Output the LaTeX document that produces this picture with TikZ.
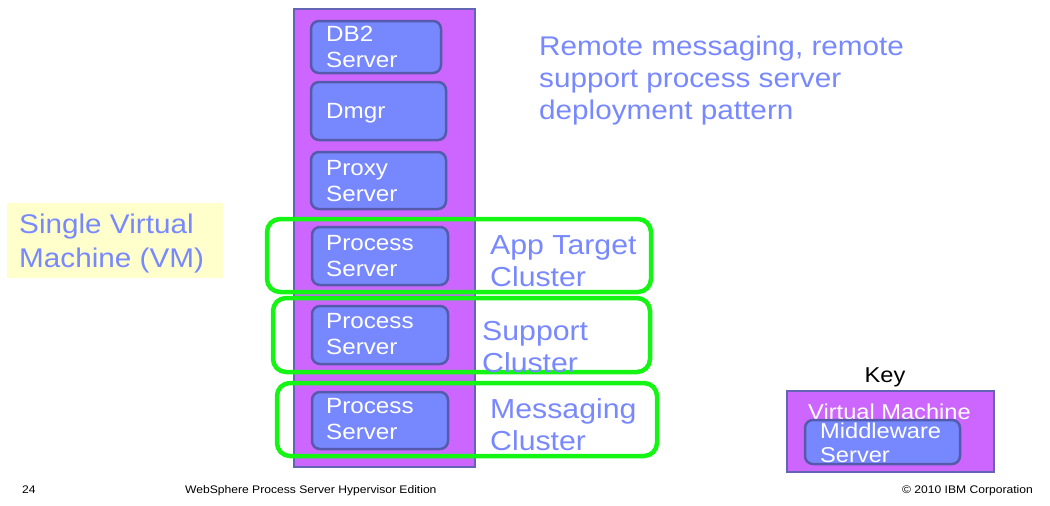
\documentclass[tikz,border=0pt]{standalone}
\usepackage{fontspec}
\setmainfont[FakeStretch=1.1]{Liberation Sans}
\definecolor{vmfill}{RGB}{204,102,255}
\definecolor{vmline}{RGB}{100,100,180}
\definecolor{srvfill}{RGB}{119,136,255}
\definecolor{srvline}{RGB}{85,90,170}
\definecolor{txtblue}{RGB}{120,136,255}
\definecolor{grn}{RGB}{20,245,20}
\definecolor{yel}{RGB}{255,255,204}
\begin{document}
\begin{tikzpicture}[x=1pt,y=-1pt,
  vmbox/.style={draw=vmline,fill=vmfill,line width=2pt},
  srvbox/.style={draw=srvline,fill=srvfill,line width=2.5pt,rounded corners=8pt},
  srvtxt/.style={anchor=north west,inner sep=0pt,align=left,text=white,font=\fontsize{22}{26}\selectfont},
  clbox/.style={draw=grn,line width=4.5pt,rounded corners=13pt},
  cltxt/.style={anchor=north west,inner sep=0pt,align=left,text=txtblue,font=\fontsize{27.5}{31.5}\selectfont},
  foot/.style={anchor=base west,inner sep=0pt,font=\fontsize{11}{12}\selectfont}]
\useasboundingbox (0,0) rectangle (1050,506);
% main VM
\draw[vmbox] (294,9) rectangle (475,467);
% servers
\draw[srvbox] (311,21) rectangle (441,73);
\node[srvtxt] (db2) at (326,26.2) {DB2\\Server};
\draw[srvbox] (311,82) rectangle (446,140);
\node[srvtxt] (dmgr) at (326,103.2) {Dmgr};
\draw[srvbox] (311,152) rectangle (446,209);
\node[srvtxt] (proxy) at (326,160.2) {Proxy\\Server};
\draw[srvbox] (312,227) rectangle (448,285);
\node[srvtxt] (ps1) at (326,235) {Process\\Server};
\draw[srvbox] (312,306) rectangle (448,364);
\node[srvtxt] (ps2) at (326,313.5) {Process\\Server};
\draw[srvbox] (312,392) rectangle (448,449);
\node[srvtxt] (ps3) at (326,398.5) {Process\\Server};
% clusters
\draw[clbox] (267,219) rectangle (651,292);
\node[cltxt] (appt) at (490,235.5) {App Target\\Cluster};
\draw[clbox] (273,298) rectangle (650,372);
\node[cltxt] (supp) at (482,321.5) {Support\\Cluster};
\draw[clbox] (277,383) rectangle (657,456);
\node[cltxt] (msg) at (490,398.5) {Messaging\\Cluster};
% title
\node[anchor=north west,inner sep=0pt,align=left,text=txtblue,font=\fontsize{27}{32}\selectfont] (title) at (539,35.5)
  {Remote messaging, remote\\support process server\\deployment pattern};
% single VM
\fill[yel] (7,203) rectangle (223,278);
\node[anchor=north west,inner sep=0pt,align=left,text=txtblue,font=\fontsize{27}{34}\selectfont] (single) at (19,213.3)
  {Single Virtual\\Machine (VM)};
% key
\node[anchor=base,inner sep=0pt,font=\fontsize{21.5}{24}\selectfont] (key) at (885,382) {Key};
\draw[vmbox] (787,391) rectangle (994,472);
\node[anchor=base west,inner sep=0pt,text=white,font=\fontsize{21.5}{24}\selectfont] (kvm) at (808,419) {Virtual Machine};
\draw[srvbox] (805,420) rectangle (960,464);
\node[anchor=north west,inner sep=0pt,align=left,text=white,font=\fontsize{21.5}{24}\selectfont] (kmw) at (820,423) {Middleware\\Server};
% footer
\node[foot] (pg) at (22,493) {24};
\node[foot] (prod) at (185,493) {WebSphere Process Server Hypervisor Edition};
\node[foot,anchor=base east] (copy) at (1033,493) {© 2010 IBM Corporation};
\end{tikzpicture}
\end{document}
